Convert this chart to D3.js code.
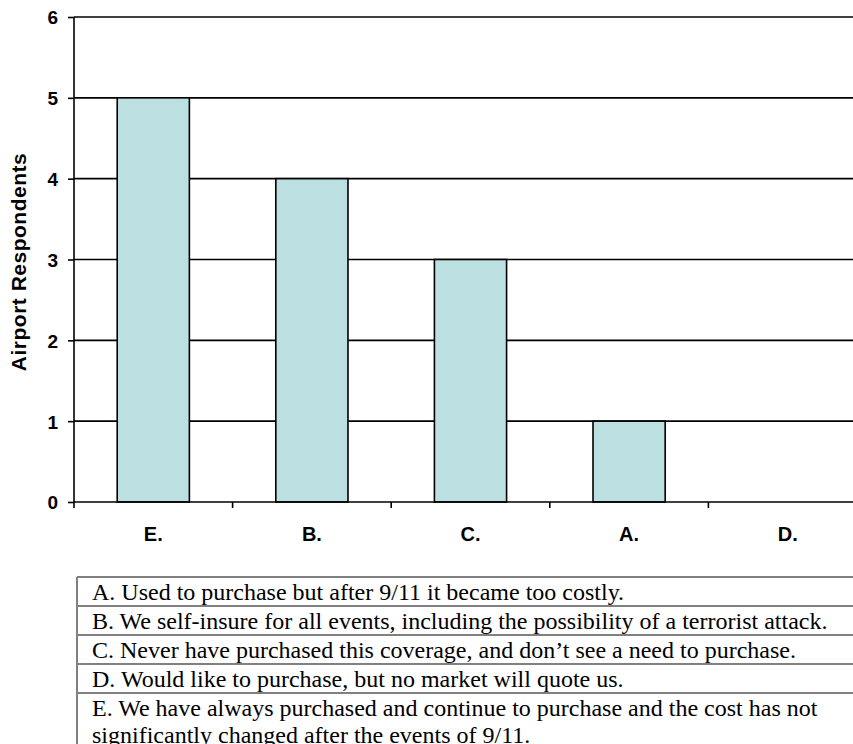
<!DOCTYPE html>
<html>
<head>
<meta charset="utf-8">
<script src="https://cdn.jsdelivr.net/npm/d3@7"></script>
<style>
  html, body { margin: 0; padding: 0; background: #fff; }
  svg { display: block; }
</style>
</head>
<body>
<svg id="chart" width="853" height="744"></svg>
<script>
// Survey responses: terrorism coverage purchasing behaviour among airports
const categories = ["E.", "B.", "C.", "A.", "D."];
const respondents = [5, 4, 3, 1, 0];
const yTicks = [0, 1, 2, 3, 4, 5, 6];
const yTitle = "Airport Respondents";
const legendRows = [
  ["A. Used to purchase but after 9/11 it became too costly."],
  ["B. We self-insure for all events, including the possibility of a terrorist attack."],
  ["C. Never have purchased this coverage, and don\u2019t see a need to purchase."],
  ["D. Would like to purchase, but no market will quote us."],
  ["E. We have always purchased and continue to purchase and the cost has not",
   "significantly changed after the events of 9/11."]
];

const svg = d3.select("#chart");

const plot = { left: 74, right: 867, top: 17, bottom: 502 };
const sans = "'Liberation Sans', Arial, sans-serif";

const x = d3.scaleBand()
  .domain(categories)
  .range([plot.left, plot.right])
  .padding(0);

const y = d3.scaleLinear()
  .domain([0, 6])
  .range([plot.bottom, plot.top]);

const barWidth = x.bandwidth() * 0.455;

// horizontal gridlines
svg.append("g")
  .selectAll("line")
  .data(yTicks.filter(t => t > 0))
  .join("line")
  .attr("x1", plot.left)
  .attr("x2", plot.right)
  .attr("y1", d => y(d))
  .attr("y2", d => y(d))
  .attr("stroke", "#000")
  .attr("stroke-width", 1.6);

// bars
svg.append("g")
  .selectAll("rect")
  .data(categories.map((c, i) => ({ c, v: respondents[i] })).filter(d => d.v > 0))
  .join("rect")
  .attr("x", d => x(d.c) + (x.bandwidth() - barWidth) / 2)
  .attr("y", d => y(d.v))
  .attr("width", barWidth)
  .attr("height", d => y(0) - y(d.v))
  .attr("fill", "#bce0e2")
  .attr("stroke", "#000")
  .attr("stroke-width", 1.6);

// y axis
const yAxis = svg.append("g")
  .attr("transform", `translate(${plot.left},0)`)
  .call(d3.axisLeft(y).tickValues(yTicks).tickFormat(d3.format("d")).tickSize(6).tickPadding(10));
yAxis.select(".domain").attr("stroke", "#000").attr("stroke-width", 1.6).attr("d", `M0,${plot.top}V${plot.bottom}`);
yAxis.selectAll(".tick line").attr("stroke", "#000").attr("stroke-width", 1.6);
yAxis.selectAll(".tick text")
  .attr("fill", "#000")
  .attr("dy", "0.36em")
  .style("font-family", sans)
  .style("font-weight", "bold")
  .style("font-size", "19px");

// x axis: ticks sit on category boundaries, labels at category centres
const xAxisG = svg.append("g").attr("transform", `translate(0,${plot.bottom})`);
xAxisG.append("line")
  .attr("x1", plot.left).attr("x2", plot.right)
  .attr("stroke", "#000").attr("stroke-width", 1.6);
xAxisG.selectAll("line.tick")
  .data(categories)
  .join("line")
  .attr("class", "tick")
  .attr("x1", d => x(d)).attr("x2", d => x(d))
  .attr("y1", 0).attr("y2", 6)
  .attr("stroke", "#000").attr("stroke-width", 1.6);
xAxisG.selectAll("text")
  .data(categories)
  .join("text")
  .attr("x", d => x(d) + x.bandwidth() / 2)
  .attr("y", 38.5)
  .attr("text-anchor", "middle")
  .style("font-family", sans)
  .style("font-weight", "bold")
  .style("font-size", "20px")
  .text(d => d);

// y axis title
svg.append("text")
  .attr("transform", `translate(26,262) rotate(-90)`)
  .attr("text-anchor", "middle")
  .style("font-family", sans)
  .style("font-weight", "bold")
  .style("font-size", "21px")
  .style("letter-spacing", "0.5px")
  .text(yTitle);

// key table below the chart
const table = { left: 77, right: 900, top: 577, rowH: 29, lineH: 27 };
const tg = svg.append("g");
let rowTop = table.top;
const rowTops = [];
legendRows.forEach(lines => {
  rowTops.push(rowTop);
  rowTop += table.rowH + (lines.length - 1) * table.lineH;
});
tg.selectAll("line.rule")
  .data(rowTops.concat([rowTop]))
  .join("line")
  .attr("class", "rule")
  .attr("x1", table.left).attr("x2", table.right)
  .attr("y1", d => d).attr("y2", d => d)
  .attr("stroke", "#808080").attr("stroke-width", 2);
tg.append("line")
  .attr("x1", table.left).attr("x2", table.left)
  .attr("y1", table.top).attr("y2", rowTop)
  .attr("stroke", "#808080").attr("stroke-width", 2);
legendRows.forEach((lines, i) => {
  const t = tg.append("text")
    .attr("x", table.left + 15)
    .attr("y", rowTops[i] + 22.5)
    .style("font-family", "'Liberation Serif', 'Times New Roman', serif")
    .style("font-size", "24px")
    .attr("fill", "#000");
  lines.forEach((ln, j) => {
    t.append("tspan")
      .attr("x", table.left + 15)
      .attr("dy", j === 0 ? 0 : table.lineH)
      .text(ln);
  });
});
</script>
</body>
</html>
